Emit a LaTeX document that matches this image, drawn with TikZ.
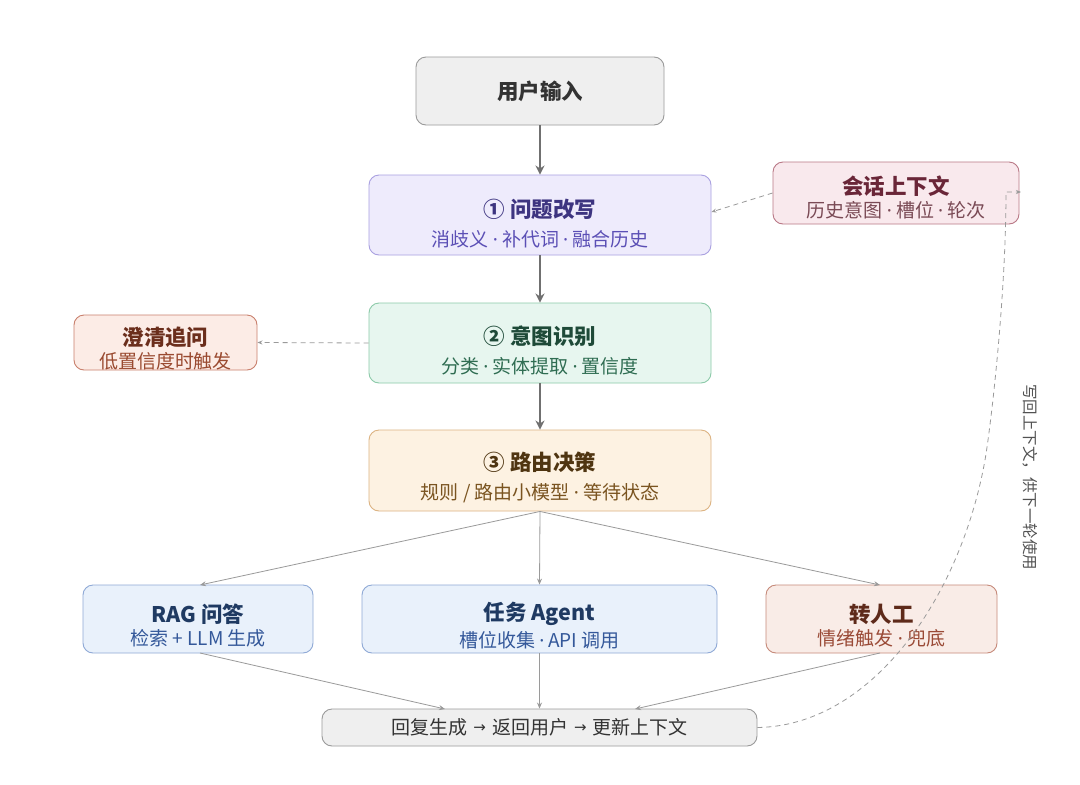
\documentclass[tikz,border=0pt]{standalone}
\usepackage{fontspec}
\setmainfont{Noto Sans CJK SC}
\newfontfamily\latfont{Noto Sans}
\newfontfamily\arrowfont{DejaVu Sans}
\usetikzlibrary{arrows.meta}
\definecolor{gfill}{HTML}{EFEFEF}\definecolor{gdraw}{HTML}{9A9A9A}\definecolor{gtext}{HTML}{333333}
\definecolor{pfill}{HTML}{EEEBFC}\definecolor{pdraw}{HTML}{A9A0E0}\definecolor{ptitle}{HTML}{3D3480}\definecolor{psub}{HTML}{5B4FB5}
\definecolor{kfill}{HTML}{F9E9ED}\definecolor{kdraw}{HTML}{B97886}\definecolor{ktitle}{HTML}{6A2638}\definecolor{ksub}{HTML}{7A4A55}
\definecolor{nfill}{HTML}{E7F6EF}\definecolor{ndraw}{HTML}{8CCAA9}\definecolor{ntitle}{HTML}{1E4A38}\definecolor{nsub}{HTML}{2F6D52}
\definecolor{ofill}{HTML}{FCECE6}\definecolor{odraw}{HTML}{C9806D}\definecolor{otitle}{HTML}{6B2E1C}\definecolor{osub}{HTML}{9A4A30}
\definecolor{rfill}{HTML}{FDF2E2}\definecolor{rdraw}{HTML}{DCB382}\definecolor{rtitle}{HTML}{4F3511}\definecolor{rsub}{HTML}{7A5420}
\definecolor{bfill}{HTML}{E9F1FB}\definecolor{bdraw}{HTML}{8FA9D6}\definecolor{btitle}{HTML}{1F3A62}\definecolor{bsub}{HTML}{34589A}
\definecolor{hfill}{HTML}{F9ECE7}\definecolor{hdraw}{HTML}{C68A7A}\definecolor{htitle}{HTML}{5E2A1A}\definecolor{hsub}{HTML}{9A4A36}
\definecolor{edge}{HTML}{707070}\definecolor{thin}{HTML}{9A9A9A}
\newcommand\dotsep{\hspace{4pt}{\latfont ·}\hspace{4pt}}
\newcommand\arrsep{\hspace{6pt}\raisebox{2.5pt}{\arrowfont\fontsize{15}{15}\selectfont →}\hspace{6pt}}
% #1 title colour, #2 sub colour, #3 title, #4 sub, #5 gap
\newcommand\twotext[5]{{\fontsize{21.5}{21.5}\selectfont\bfseries\color{#1}#3}\\[#5]{\fontsize{19}{19}\selectfont\color{#2}#4}}
\begin{document}
\begin{tikzpicture}[x=1pt,y=-1pt,
  box/.style={rounded corners=10pt, line width=0.9pt, inner sep=0pt, align=center},
  thick arrow/.style={draw=edge, line width=1.8pt, -{Stealth[length=9pt,width=9pt]}},
  thin arrow/.style={draw=thin, line width=0.8pt, -{Stealth[length=6pt,width=5pt]}},
  dash arrow/.style={draw=thin, line width=0.8pt, dash pattern=on 5pt off 4pt, -{Stealth[length=5pt,width=4pt]}}]
\useasboundingbox (0,0) rectangle (1080,785);
\fill[white] (0,0) rectangle (1080,785);
% nodes
\node[box, fill=gfill, draw=gdraw, minimum width=248pt, minimum height=68pt, text=gtext, font=\fontsize{21.5}{21.5}\selectfont\bfseries] (inp) at (540,91) {用户输入};
\node[box, fill=pfill, draw=pdraw, minimum width=342pt, minimum height=80pt,
  label={[align=center, yshift=-8.5pt]center:\twotext{ptitle}{psub}{① 问题改写}{消歧义\dotsep 补代词\dotsep 融合历史}{10pt}}] (rw) at (540,215) {};
\node[box, fill=kfill, draw=kdraw, minimum width=246pt, minimum height=62pt,
  label={[align=center, yshift=-4.5pt]center:\twotext{ktitle}{ksub}{会话上下文}{历史意图\dotsep 槽位\dotsep 轮次}{4pt}}] (ctx) at (896,193) {};
\node[box, fill=nfill, draw=ndraw, minimum width=342pt, minimum height=80pt,
  label={[align=center, yshift=-7.5pt]center:\twotext{ntitle}{nsub}{② 意图识别}{分类\dotsep 实体提取\dotsep 置信度}{10pt}}] (it) at (540,343) {};
\node[box, fill=ofill, draw=odraw, minimum width=183pt, minimum height=55pt,
  label={[align=center, yshift=-6pt]center:\twotext{otitle}{osub}{澄清追问}{低置信度时触发}{4pt}}] (cl) at (165.5,342.5) {};
\node[box, fill=rfill, draw=rdraw, minimum width=342pt, minimum height=81pt,
  label={[align=center, yshift=-7pt]center:\twotext{rtitle}{rsub}{③ 路由决策}{规则 / 路由小模型\dotsep 等待状态}{10pt}}] (rt) at (540,470.5) {};
\node[box, fill=bfill, draw=bdraw, minimum width=230pt, minimum height=68pt,
  label={[align=center, yshift=-6.5pt]center:\twotext{btitle}{bsub}{RAG 问答}{检索 + LLM 生成}{4pt}}] (rag) at (198,619) {};
\node[box, fill=bfill, draw=bdraw, minimum width=355pt, minimum height=68pt,
  label={[align=center, yshift=-6.5pt]center:\twotext{btitle}{bsub}{任务 Agent}{槽位收集\dotsep API 调用}{4pt}}] (ag) at (539.5,619) {};
\node[box, fill=hfill, draw=hdraw, minimum width=231pt, minimum height=68pt,
  label={[align=center, yshift=-6.5pt]center:\twotext{htitle}{hsub}{转人工}{情绪触发\dotsep 兜底}{4pt}}] (hu) at (881.5,619) {};
\node[box, fill=gfill, draw=gdraw, minimum width=435pt, minimum height=37pt, text=gtext, font=\fontsize{19}{19}\selectfont] (rep) at (539.5,727.5) {回复生成\arrsep 返回用户\arrsep 更新上下文};
% main flow
\draw[thick arrow] (inp.south) -- (rw.north);
\draw[thick arrow] (rw.south) -- (it.north);
\draw[thick arrow] (it.south) -- (rt.north);
% routing
\draw[thin arrow] (rt.south) -- (200,585);
\draw[thin arrow] (rt.south) -- (ag.north);
\draw[thin arrow] (rt.south) -- (880,585);
\draw[thin arrow] (200,653) -- (445,709);
\draw[thin arrow] (ag.south) -- (rep.north);
\draw[thin arrow] (880,653) -- (635,709);
% dashed side links
\draw[dash arrow] (ctx.west) -- (rw.east |- 0,212);
\draw[dash arrow] (it.west) -- (cl.east);
\coordinate (back) at (1021,192);
\draw[dash arrow] (rep.east) .. controls (870,726) and (960,600) .. (985,460) .. controls (990,432) and (1006,300) .. (1006,192) -- (back);
\node[rotate=-90, text=gtext!85, font=\fontsize{15.5}{15.5}\selectfont] (lbl) at (1030,477) {写回上下文，供下一轮使用};
\end{tikzpicture}
\end{document}
